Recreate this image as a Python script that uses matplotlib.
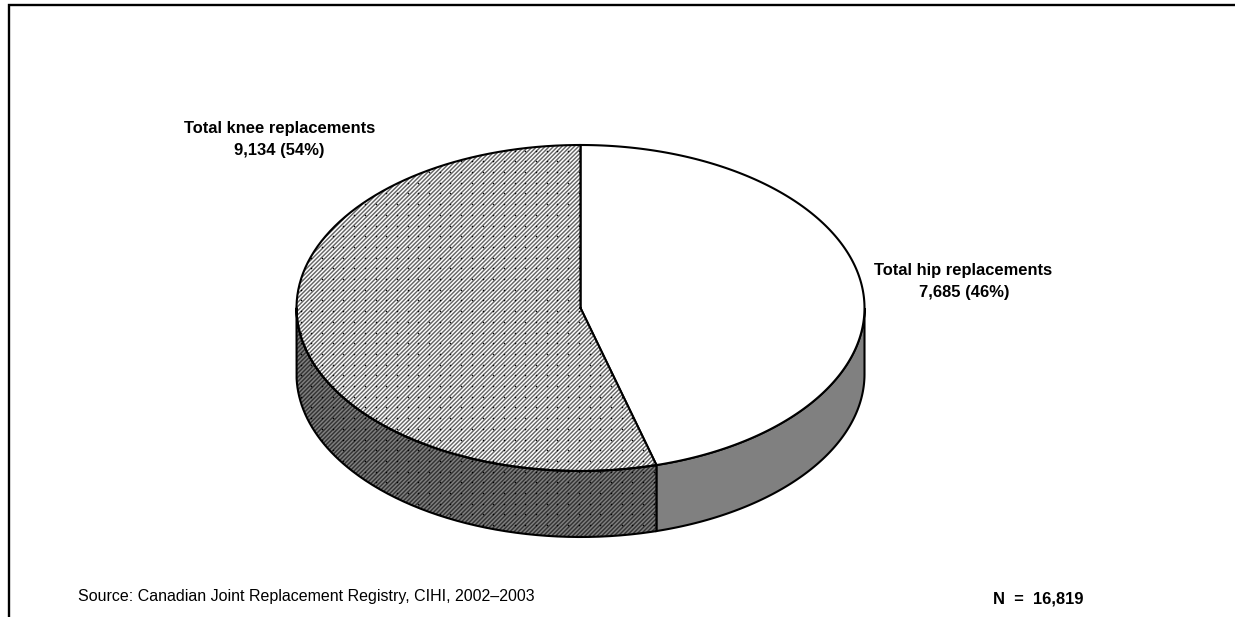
import numpy as np
import matplotlib
matplotlib.use("Agg")
import matplotlib.pyplot as plt
from matplotlib.patches import Polygon

plt.rcParams['font.family'] = ['Liberation Sans', 'DejaVu Sans']
plt.rcParams['hatch.linewidth'] = 1.05

categories = ["Total hip replacements", "Total knee replacements"]
counts = [7685, 9134]
percent_labels = ["7,685 (46%)", "9,134 (54%)"]
total_label = "N  =  16,819"
source = "Source: Canadian Joint Replacement Registry, CIHI, 2002\u20132003"

# ellipse of the pie, in pixels of the picture
cx, cy = 580.5, 308
rx, ry = 284, 163
depth = 66
lw = 1.5


def arc(a0, a1, dy=0):
    # angles clockwise from the top of the pie
    t = np.radians(np.linspace(a0, a1, 200))
    return cx + rx * np.sin(t), cy - ry * np.cos(t) + dy


def hatched(x, y, line_color):
    ax.fill(x, y, facecolor='none', edgecolor=line_color, hatch='////////', lw=0)
    # small black dots of the fill pattern
    gx, gy = np.meshgrid(np.arange(290, 880, 10.7), np.arange(140, 550, 10.7))
    dots = ax.scatter(gx.ravel(), gy.ravel(), s=1.3, color='k', lw=0)
    dots.set_clip_path(Polygon(np.c_[x, y], transform=ax.transData))
    ax.plot(np.r_[x, x[0]], np.r_[y, y[0]], color='k', lw=lw)


split = 360 * counts[0] / sum(counts)

fig = plt.figure(figsize=(12.35, 6.17), dpi=100)
ax = fig.add_axes([0, 0, 1, 1])
ax.set_xlim(0, 1235)
ax.set_ylim(617, 0)
ax.axis('off')

# side of the pie
x1, y1 = arc(90, split)
x2, y2 = arc(split, 90, depth)
ax.fill(np.r_[x1, x2], np.r_[y1, y2], facecolor='#808080', edgecolor='k', lw=lw)
x1, y1 = arc(split, 270)
x2, y2 = arc(270, split, depth)
ax.fill(np.r_[x1, x2], np.r_[y1, y2], facecolor='#808080', lw=0)
hatched(np.r_[x1, x2], np.r_[y1, y2], '#333333')

# top of the pie
x1, y1 = arc(0, split)
ax.fill(np.r_[cx, x1], np.r_[cy, y1], facecolor='white', edgecolor='k', lw=lw)
x1, y1 = arc(split, 360)
ax.fill(np.r_[cx, x1], np.r_[cy, y1], facecolor='white', lw=0)
hatched(np.r_[cx, x1], np.r_[cy, y1], '#666666')

bold = dict(fontsize=11.9, fontweight='bold', ha='center', va='center', color='k')
ax.text(963.5, 270, categories[0], **bold)
ax.text(964, 292, percent_labels[0], **bold)
ax.text(279.5, 129, categories[1], **bold)
ax.text(279, 151, percent_labels[1], **bold)
ax.text(1038, 599, total_label, **bold)
ax.text(78, 597, source, fontsize=11.5, ha='left', va='center', color='k')

# frame, only top and left are left in the picture
ax.plot([9, 9, 1235], [617, 5, 5], color='k', lw=1.7, solid_joinstyle='miter')

fig.savefig("out.png", dpi=100)
